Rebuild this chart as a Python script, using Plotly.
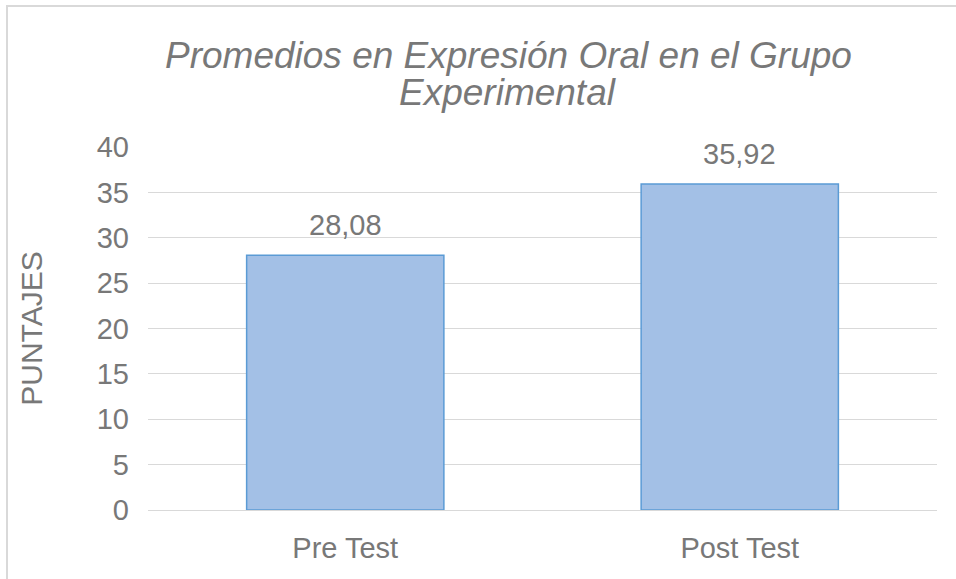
import plotly.graph_objects as go

categories = ["Pre Test", "Post Test"]
values = [28.08, 35.92]
y_ticks = [0, 5, 10, 15, 20, 25, 30, 35, 40]
title_lines = ["Promedios en Expresión Oral en el Grupo", "Experimental"]

FONT = "Liberation Sans, Arial, sans-serif"
GRAY = "#787878"

fig = go.Figure(
    go.Bar(
        x=categories,
        y=values,
        width=0.5,
        marker=dict(color="#a3c0e6", line=dict(color="#5b9bd5", width=1.5)),
        hovertemplate="%{x}: %{y:.2f}<extra></extra>",
    )
)

W, H = 956, 579
L, R, T, B = 148, 19, 147, 69
pw, ph = W - L - R, H - T - B

annotations = []
for c, v in zip(categories, values):
    annotations.append(
        dict(
            x=c, y=v, xref="x", yref="y",
            text=f"{v:.2f}".replace(".", ","),
            showarrow=False, yanchor="bottom", yshift=12,
            font=dict(family=FONT, size=29, color=GRAY),
        )
    )
# title lines, centred at x ~508 px
for i, line in enumerate(title_lines):
    annotations.append(
        dict(
            x=(508 - L) / pw, xref="paper",
            y=(H - B - (78 + 37 * i)) / ph, yref="paper",
            yanchor="bottom",
            text=f"<i>{line}</i>",
            showarrow=False,
            font=dict(family=FONT, size=37, color=GRAY),
        )
    )

fig.update_layout(
    width=W,
    height=H,
    margin=dict(l=L, r=R, t=T, b=B),
    paper_bgcolor="white",
    plot_bgcolor="white",
    showlegend=False,
    annotations=annotations,
    xaxis=dict(
        tickfont=dict(family=FONT, size=29, color=GRAY),
        showgrid=False,
        showline=False,
        ticks="",
        ticklabelstandoff=18,
    ),
    yaxis=dict(
        range=[0, 40],
        tickvals=y_ticks,
        tickfont=dict(family=FONT, size=29, color=GRAY),
        showgrid=True,
        gridcolor="#d9d9d9",
        gridwidth=1,
        zeroline=True,
        zerolinecolor="#d9d9d9",
        zerolinewidth=1,
        showline=False,
        ticks="",
        ticklabelstandoff=18,
        title=dict(text="PUNTAJES", font=dict(family=FONT, size=30, color=GRAY), standoff=45),
    ),
    shapes=[
        dict(
            type="rect",
            xref="paper",
            yref="paper",
            x0=(7 - L) / pw,
            x1=(W + 10 - L) / pw,
            y0=(H - T - (H + 10)) / ph,
            y1=(H - B - 6) / ph,
            line=dict(color="#d9d9d9", width=2),
            fillcolor="rgba(0,0,0,0)",
            layer="below",
        )
    ],
)

fig.write_html(
    "out.html",
    config={"displayModeBar": False},
    post_script="document.body.style.margin='0px';document.body.style.padding='0px';",
)
